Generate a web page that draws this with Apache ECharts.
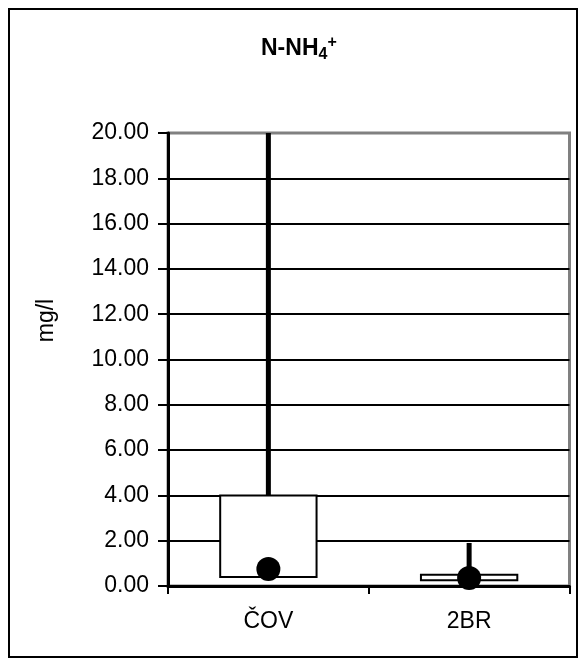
<!DOCTYPE html>
<html>
<head>
<meta charset="utf-8">
<script src="https://cdn.jsdelivr.net/npm/echarts@6/dist/echarts.min.js"></script>
<style>
html,body{margin:0;padding:0;background:#fff;}
#chart{width:585px;height:667px;}
</style>
</head>
<body>
<div id="chart"></div>
<script>
// ---- data ----
const categories = ['ČOV', '2BR'];
const boxLow = [0.40, 0.25];      // lower edge of box
const boxHigh = [4.00, 0.50];     // upper edge of box
const whiskerLow = [0.40, 0.25];  // lower whisker end
const whiskerHigh = [20.00, 1.90];// upper whisker end
const markerValues = [0.75, 0.35];// black dot
const yMin = 0, yMax = 20, yInterval = 2;

const FONT = 'Liberation Sans, Arial, sans-serif';

const boxData = categories.map((c, i) => [i, boxLow[i], boxHigh[i], whiskerLow[i], whiskerHigh[i]]);
const dotData = categories.map((c, i) => [i, markerValues[i]]);

function renderBox(params, api) {
  const idx = api.value(0);
  const x = api.coord([idx, 0])[0];
  const bw = api.size([1, 0])[0] * 0.48;
  const yLo = api.coord([idx, api.value(1)])[1];
  const yHi = api.coord([idx, api.value(2)])[1];
  const yWLo = api.coord([idx, api.value(3)])[1];
  const yWHi = api.coord([idx, api.value(4)])[1];
  const children = [];
  children.push({type: 'line', shape: {x1: x, y1: yHi, x2: x, y2: yWHi}, style: {stroke: '#000', lineWidth: 5}});
  if (yWLo > yLo + 0.5) {
    children.push({type: 'line', shape: {x1: x, y1: yLo, x2: x, y2: yWLo}, style: {stroke: '#000', lineWidth: 5}});
  }
  children.push({type: 'rect', shape: {x: x - bw / 2, y: yHi, width: bw, height: yLo - yHi}, style: {fill: '#fff', stroke: '#000', lineWidth: 2}});
  return {type: 'group', children: children};
}

const splitColors = [];
for (let v = yMin; v <= yMax; v += yInterval) splitColors.push(v === yMax ? '#808080' : '#000');

const chart = echarts.init(document.getElementById('chart'), null, {renderer: 'canvas'});
chart.setOption({
  backgroundColor: '#fff',
  animation: false,
  title: {
    text: '{n|N-NH}{sub|4}{sup|+}',
    left: 261,
    top: 35,
    padding: 0,
    textStyle: {
      fontFamily: FONT,
      rich: {
        n: {fontSize: 23, fontWeight: 'bold', color: '#000', fontFamily: FONT, lineHeight: 28, verticalAlign: 'middle'},
        sub: {fontSize: 16, fontWeight: 'bold', color: '#000', fontFamily: FONT, lineHeight: 15, verticalAlign: 'bottom'},
        sup: {fontSize: 16, fontWeight: 'bold', color: '#000', fontFamily: FONT, lineHeight: 15, verticalAlign: 'top'}
      }
    }
  },
  graphic: [{
    type: 'rect',
    shape: {x: 9, y: 9, width: 568, height: 648},
    style: {fill: 'none', stroke: '#000', lineWidth: 2},
    silent: true
  }],
  grid: {
    left: 168, right: 15.5, top: 133, bottom: 81,
    show: true, borderColor: '#808080', borderWidth: 3, backgroundColor: 'transparent'
  },
  xAxis: {
    type: 'category',
    data: categories,
    boundaryGap: true,
    axisLine: {lineStyle: {color: '#000', width: 3}},
    axisTick: {show: true, length: 8, lineStyle: {color: '#000', width: 2}},
    axisLabel: {color: '#000', fontSize: 23, fontFamily: FONT, margin: 24},
    splitLine: {show: false}
  },
  yAxis: {
    type: 'value',
    min: yMin, max: yMax, interval: yInterval,
    name: 'mg/l',
    nameLocation: 'middle',
    nameGap: 110,
    nameTextStyle: {color: '#000', fontSize: 23, fontFamily: FONT, padding: [0, 0, 0, 78]},
    axisLine: {show: true, lineStyle: {color: '#000', width: 3}},
    axisTick: {show: true, length: 10, lineStyle: {color: '#000', width: 2}},
    axisLabel: {color: '#000', fontSize: 23, fontFamily: FONT, margin: 19, formatter: v => v.toFixed(2)},
    splitLine: {show: true, lineStyle: {color: splitColors, width: 2}}
  },
  series: [
    {
      type: 'custom',
      renderItem: renderBox,
      data: boxData,
      encode: {x: 0, y: [1, 2, 3, 4]},
      clip: true,
      z: 3
    },
    {
      type: 'scatter',
      data: dotData,
      symbol: 'circle',
      symbolSize: 24,
      itemStyle: {color: '#000', opacity: 1},
      z: 5
    }
  ]
});
</script>
</body>
</html>
